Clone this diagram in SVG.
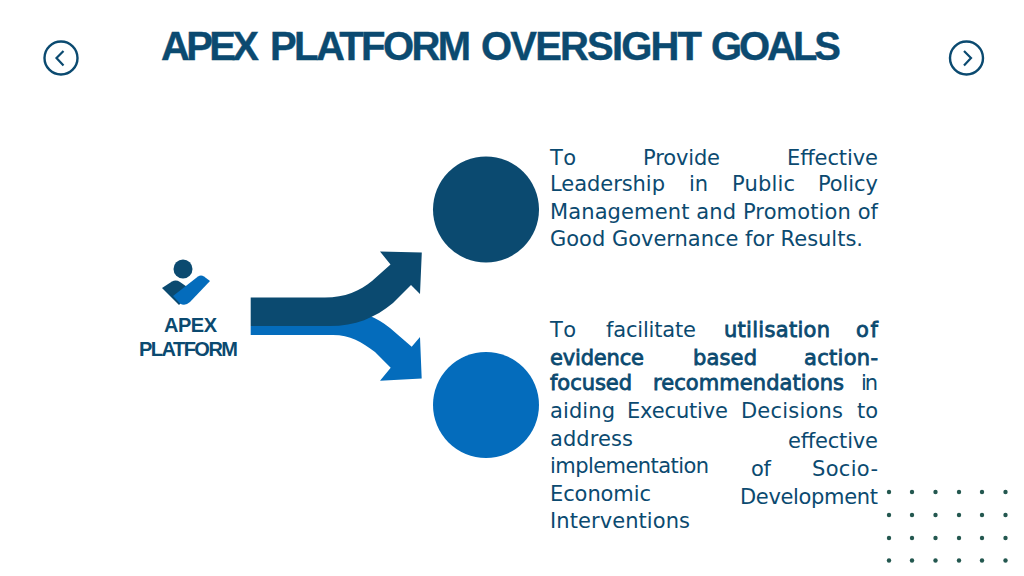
<svg xmlns="http://www.w3.org/2000/svg" width="1024" height="576" viewBox="0 0 1024 576">
<style>
.b{font-family:"DejaVu Sans",Verdana,sans-serif;font-size:21px;fill:#0b4a70;transform:translateY(.6px)}
.s{stroke:#0b4a70;stroke-width:.8}
.t{font-family:"Liberation Sans",Arial,sans-serif;font-weight:bold;fill:#0b4a70}
.h{font-size:40px;stroke:#0b4a70;stroke-width:.4}
.nav{fill:#fff;stroke:#0b4a70;stroke-width:2.4}
.chev{fill:none;stroke:#0b4a70;stroke-width:2.2}
.d{fill:#23574f}
</style>
<rect width="1024" height="576" fill="#fff"/>
<g id="title">
<text class="t h" x="161" y="60" textLength="98">APEX</text>
<text class="t h" x="270" y="60" textLength="201">PLATFORM</text>
<text class="t h" x="481" y="60" textLength="221">OVERSIGHT</text>
<text class="t h" x="711" y="60" textLength="130">GOALS</text>
</g>
<g id="nav-prev"><circle class="nav" cx="61" cy="58" r="16.5"/><path class="chev" d="M63.500 51 L56.500 58 L63.500 65.500"/></g>
<g id="nav-next"><circle class="nav" cx="966.500" cy="58" r="16.500"/><path class="chev" d="M964 51 L971 58 L964 65.500"/></g>
<g id="apex-logo">
<circle cx="183" cy="269" r="9.500" fill="#0b4a70"/>
<path d="M162 288 L172 281.500 Q176 279.500 180 282 L193 291 L179 305 Z" fill="#0b4a70"/>
<path d="M173 296 L198 276.500 Q201 274.500 204 276.500 L210 281 L190 302 Q185 306.500 180 303.500 Z" fill="#046cbc"/>
<text class="t" font-size="20" x="164" y="332" textLength="53">APEX</text>
<text class="t" font-size="20" x="139" y="356" textLength="99">PLATFORM</text>
</g>
<g id="connectors">
<path id="arrow-blue" d="M250.700 326 L250.700 335 L333 335 C350 335 362 342 375 352 L390.700 367.700 L380 380.700 L421.700 378.500 L420 337 L411.700 346.700 L390 328 Q380 320 370 316 Z" fill="#046cbc"/>
<path id="arrow-dark" d="M250.700 297.500 L325 297.500 C345 297.500 360 291 372 281 L390.500 264.500 L380 251.500 L421.800 252.500 L420 294 L411 285 L393 303 C375 318 355 326 330 326 L250.700 326 Z" fill="#0b4a70"/>
</g>
<g id="goal-1"><circle cx="486" cy="209.500" r="53" fill="#0b4a70"/>
<text class="b" x="550" y="164" textLength="26">To</text>
<text class="b" x="643" y="164" textLength="77">Provide</text>
<text class="b" x="787" y="164" textLength="91">Effective</text>
<text class="b" x="550" y="190" textLength="115">Leadership</text>
<text class="b" x="689" y="190" textLength="19">in</text>
<text class="b" x="732" y="190" textLength="63">Public</text>
<text class="b" x="818" y="190" textLength="60">Policy</text>
<text class="b" x="550" y="218" textLength="328">Management and Promotion of</text>
<text class="b" x="550" y="245" textLength="313">Good Governance for Results.</text>
</g>
<g id="goal-2"><circle cx="486" cy="405" r="53" fill="#046cbc"/>
<text class="b" x="550" y="336" textLength="26">To</text>
<text class="b" x="606" y="336" textLength="90">facilitate</text>
<text class="b s" x="724" y="336" textLength="106">utilisation</text>
<text class="b s" x="856" y="336" textLength="22">of</text>
<text class="b s" x="550" y="364" textLength="94">evidence</text>
<text class="b s" x="693" y="364" textLength="64">based</text>
<text class="b s" x="804" y="364" textLength="74">action-</text>
<text class="b s" x="550" y="389" textLength="82">focused</text>
<text class="b s" x="653" y="389" textLength="191">recommendations</text>
<text class="b" x="861" y="389" textLength="17">in</text>
<text class="b" x="550" y="417" textLength="65">aiding</text>
<text class="b" x="627" y="417" textLength="101">Executive</text>
<text class="b" x="741" y="417" textLength="102">Decisions</text>
<text class="b" x="857" y="417" textLength="21">to</text>
<text class="b" x="550" y="445" textLength="83">address</text>
<text class="b" x="788" y="447" textLength="90">effective</text>
<text class="b" x="550" y="472" textLength="159">implementation</text>
<text class="b" x="751" y="475" textLength="20">of</text>
<text class="b" x="812" y="475" textLength="66">Socio-</text>
<text class="b" x="550" y="500" textLength="101">Economic</text>
<text class="b" x="740" y="503" textLength="138">Development</text>
<text class="b" x="550" y="527" textLength="140">Interventions</text>
</g>
<g id="dots" class="d">
<circle cx="889" cy="492" r="2.2"/><circle cx="912" cy="492" r="2.2"/><circle cx="935.500" cy="492" r="2.2"/><circle cx="959" cy="492" r="2.2"/><circle cx="982" cy="492" r="2.2"/><circle cx="1005.500" cy="492" r="2.2"/>
<circle cx="889" cy="515" r="2.2"/><circle cx="912" cy="515" r="2.2"/><circle cx="935.500" cy="515" r="2.2"/><circle cx="959" cy="515" r="2.2"/><circle cx="982" cy="515" r="2.2"/><circle cx="1005.500" cy="515" r="2.2"/>
<circle cx="889" cy="538" r="2.2"/><circle cx="912" cy="538" r="2.2"/><circle cx="935.500" cy="538" r="2.2"/><circle cx="959" cy="538" r="2.2"/><circle cx="982" cy="538" r="2.2"/><circle cx="1005.500" cy="538" r="2.2"/>
<circle cx="889" cy="560.500" r="2.2"/><circle cx="912" cy="560.500" r="2.2"/><circle cx="935.500" cy="560.500" r="2.2"/><circle cx="959" cy="560.500" r="2.2"/><circle cx="982" cy="560.500" r="2.2"/><circle cx="1005.500" cy="560.500" r="2.2"/>
</g>
</svg>
